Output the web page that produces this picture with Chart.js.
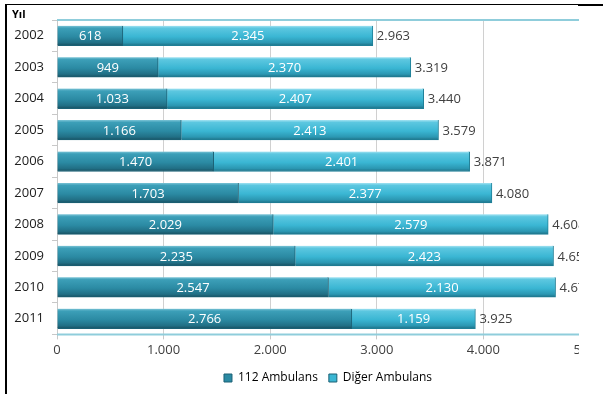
<!DOCTYPE html>
<html lang="tr">
<head>
<meta charset="UTF-8">
<title>112 ve Diğer Ambulans Sayıları</title>
<script src="https://cdn.jsdelivr.net/npm/chart.js"></script>
<style>
  body { margin: 0; background: #fff; }
  #wrap { position: absolute; left: 0; top: 0; width: 579px; height: 394px; overflow: hidden; }
  #wrap canvas { position: absolute; left: 0; top: 0; }
  .ln { position: absolute; background: #000; }
</style>
</head>
<body>
<div id="wrap"><canvas id="ambChart" width="656" height="394"></canvas></div>
<div class="ln" style="left:5px;top:4px;width:2px;height:390px"></div>
<div class="ln" style="left:5px;top:4px;width:573px;height:1px"></div>
<div class="ln" style="left:578px;top:4px;width:25px;height:2px"></div>
<script>
const years = ["2002", "2003", "2004", "2005", "2006", "2007", "2008", "2009", "2010", "2011"];
const ambulans112 = [618, 949, 1033, 1166, 1470, 1703, 2029, 2235, 2547, 2766];
const digerAmbulans = [2345, 2370, 2407, 2413, 2401, 2377, 2579, 2423, 2130, 1159];
const totals = [2963, 3319, 3440, 3579, 3871, 4080, 4608, 4658, 4677, 3925];
const xTicks = [0, 1000, 2000, 3000, 4000, 5000];

const FONT = "'Open Sans', 'DejaVu Sans', sans-serif";
const BAR_H = 20;

function fmt(v) {
    return String(v).replace(/\B(?=(\d{3})+(?!\d))/g, ".");
}

// vertical gradient per bar, gives the bevelled look
function barFill(stops, flat) {
    return function(c) {
        const chart = c.chart;
        if (!chart.chartArea || c.dataIndex === undefined) return flat;
        const y = chart.scales.y.getPixelForValue(c.dataIndex);
        const g = chart.ctx.createLinearGradient(0, y - BAR_H / 2, 0, y + BAR_H / 2);
        stops.forEach(s => g.addColorStop(s[0], s[1]));
        return g;
    };
}

const darkStops = [[0, "#7cc4d6"], [0.12, "#3c9fb8"], [0.55, "#2b8aa3"], [0.85, "#216f85"], [1, "#174f60"]];
const lightStops = [[0, "#a4e3f2"], [0.12, "#5cc7e0"], [0.55, "#3ab6d3"], [0.85, "#2b97b2"], [1, "#1d6f84"]];

const labelPlugin = {
    id: "labels",
    afterLayout(chart) {
        // original legend sits a bit right of centre
        if (chart.legend) chart.legend.left = 66;
    },
    beforeDatasetsDraw(chart) {
        const ctx = chart.ctx, a = chart.chartArea;
        ctx.save();
        ctx.strokeStyle = "#8fcddb";
        ctx.lineWidth = 2;
        ctx.beginPath();
        ctx.moveTo(a.left, a.top); ctx.lineTo(a.right, a.top);
        ctx.moveTo(a.left, a.bottom); ctx.lineTo(a.right, a.bottom);
        ctx.stroke();
        ctx.restore();
    },
    afterDatasetsDraw(chart) {
        const ctx = chart.ctx;
        ctx.save();
        ctx.font = "13px " + FONT;
        ctx.textBaseline = "middle";
        ctx.textAlign = "center";
        ctx.fillStyle = "#ffffff";
        chart.data.datasets.forEach((ds, di) => {
            chart.getDatasetMeta(di).data.forEach((bar, i) => {
                ctx.fillText(fmt(ds.data[i]), (bar.x + bar.base) / 2, bar.y + 1);
            });
        });
        ctx.textAlign = "left";
        ctx.fillStyle = "#404040";
        chart.getDatasetMeta(1).data.forEach((bar, i) => {
            ctx.fillText(fmt(totals[i]), bar.x + 4, bar.y + 1);
        });
        ctx.font = "bold 11px " + FONT;
        ctx.textBaseline = "alphabetic";
        ctx.fillStyle = "#000";
        ctx.fillText("Yıl", 12, 18);
        ctx.restore();
    }
};

new Chart(document.getElementById("ambChart"), {
    type: "bar",
    data: {
        labels: years,
        datasets: [{
            label: "112 Ambulans",
            data: ambulans112,
            backgroundColor: barFill(darkStops, "#2b8aa3"),
            borderColor: "#1b6175",
            borderWidth: { top: 0, left: 0, right: 1, bottom: 1 },
            borderSkipped: false,
            barThickness: BAR_H
        }, {
            label: "Diğer Ambulans",
            data: digerAmbulans,
            backgroundColor: barFill(lightStops, "#3ab6d3"),
            borderColor: "#1f7f97",
            borderWidth: { top: 0, left: 0, right: 1, bottom: 1 },
            borderSkipped: false,
            barThickness: BAR_H
        }]
    },
    options: {
        indexAxis: "y",
        responsive: false,
        animation: false,
        layout: { padding: { top: 20, right: 66, bottom: 0, left: 0 } },
        scales: {
            x: {
                stacked: true,
                min: 0,
                max: 5000,
                afterBuildTicks(scale) { scale.ticks = xTicks.map(v => ({ value: v })); },
                grid: { color: "#d0d0d0", tickLength: 5, tickColor: "#c8c8c8" },
                border: { display: false },
                ticks: {
                    color: "#404040",
                    font: { family: FONT, size: 13 },
                    padding: 3,
                    callback: v => fmt(v)
                }
            },
            y: {
                stacked: true,
                grid: { drawOnChartArea: false, tickLength: 5, color: "#c8c8c8" },
                border: { color: "#c8c8c8" },
                afterFit(scale) { scale.width = 57; },
                ticks: {
                    color: "#202020",
                    font: { family: FONT, size: 13 },
                    padding: 8
                }
            }
        },
        plugins: {
            legend: {
                position: "bottom",
                labels: {
                    boxWidth: 8,
                    boxHeight: 8,
                    padding: 11,
                    color: "#595959",
                    font: { family: FONT, size: 12 },
                    generateLabels(chart) {
                        const fills = ["#2b8aa3", "#3ab6d3"];
                        return chart.data.datasets.map((ds, i) => ({
                            text: ds.label,
                            fillStyle: fills[i],
                            strokeStyle: "#1b6175",
                            lineWidth: 1,
                            datasetIndex: i
                        }));
                    }
                }
            },
            tooltip: { enabled: false }
        }
    },
    plugins: [labelPlugin]
});
</script>
</body>
</html>
